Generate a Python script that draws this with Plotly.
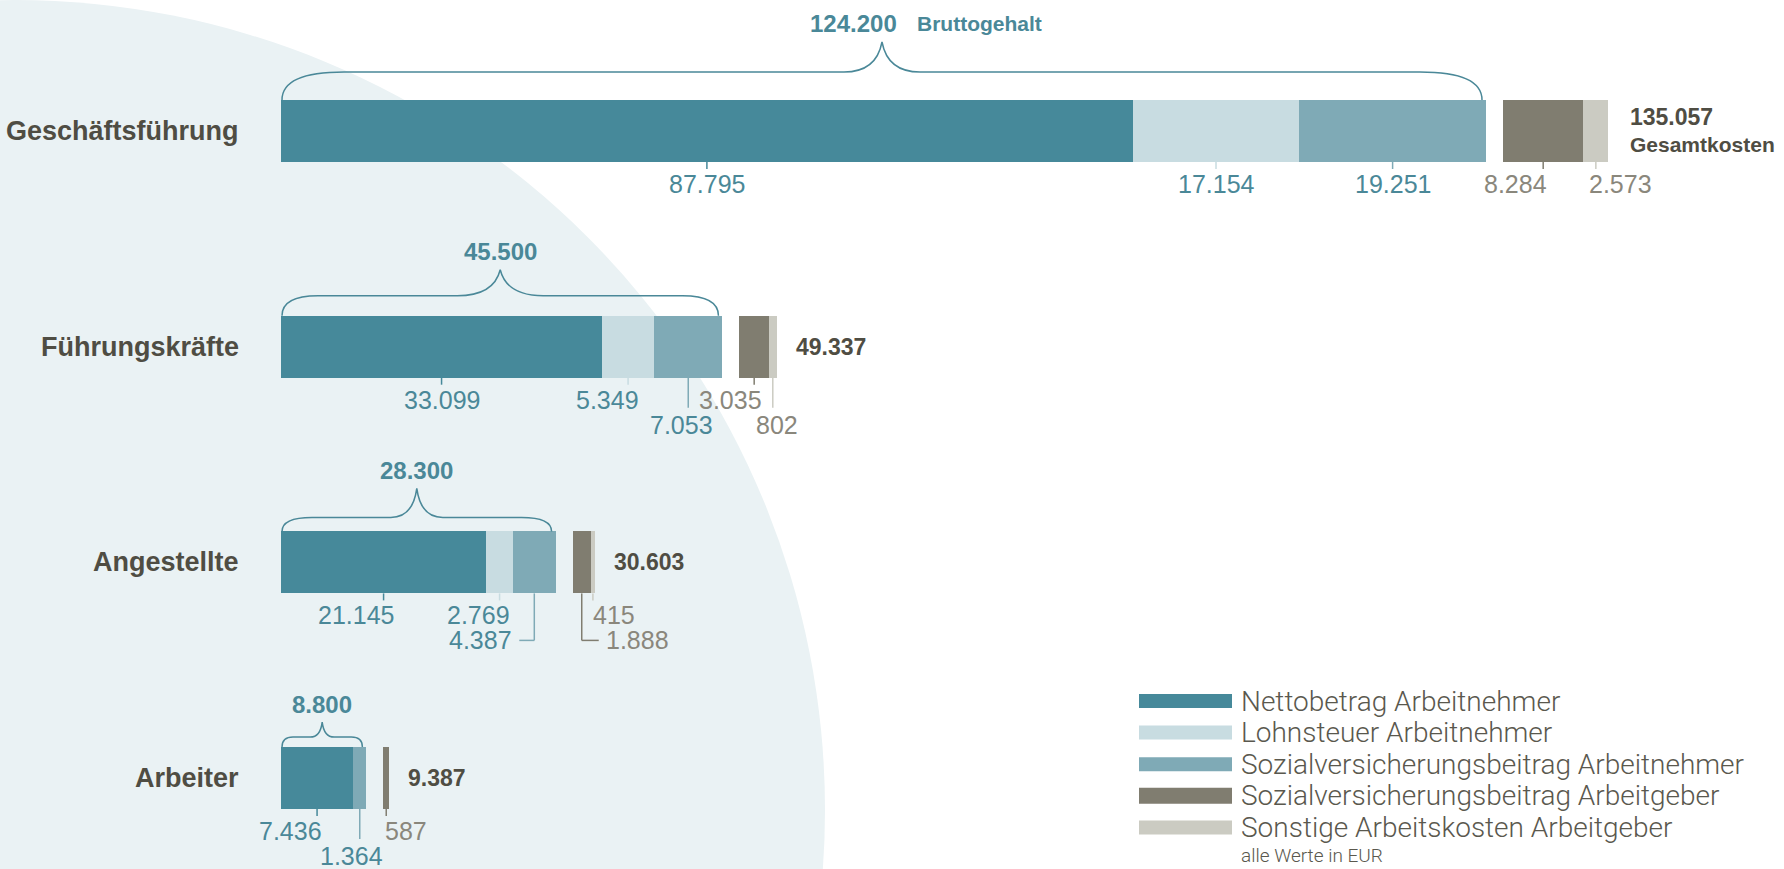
import plotly.graph_objects as go

# Arbeitskosten je Beschäftigtengruppe, alle Werte in EUR
ROWS = ["Geschäftsführung", "Führungskräfte", "Angestellte", "Arbeiter"]
SERIES = [
    "Nettobetrag Arbeitnehmer",
    "Lohnsteuer Arbeitnehmer",
    "Sozialversicherungsbeitrag Arbeitnehmer",
    "Sozialversicherungsbeitrag Arbeitgeber",
    "Sonstige Arbeitskosten Arbeitgeber",
]
NETTO = [87795, 33099, 21145, 7436]
LOHNSTEUER = [17154, 5349, 2769, 0]
SV_AN = [19251, 7053, 4387, 1364]
SV_AG = [8284, 3035, 1888, 587]
SONSTIGE = [2573, 802, 415, 0]
BRUTTO = [124200, 45500, 28300, 8800]
GESAMT = [135057, 49337, 30603, 9387]
BRUTTO_TEXT = "Bruttogehalt"
GESAMT_TEXT = "Gesamtkosten"
NOTE = "alle Werte in EUR"

VALUES = [NETTO, LOHNSTEUER, SV_AN, SV_AG, SONSTIGE]
EMPLOYEE = [0, 1, 2]
EMPLOYER = [3, 4]

COLORS = ["#46899a", "#c8dce1", "#7faab6", "#807d70", "#cbcbc2"]
TEAL = "#4a8898"
GREY = "#8a877c"
DARK = "#4f4d43"
LEGEND_TXT = "#5a584e"
BG_CIRCLE = "#eaf2f4"

BOLD_FONT = "Liberation Sans, Arial, sans-serif"
NUM_FONT = "Liberation Sans, Arial, sans-serif"
LIGHT_FONT = "Roboto, Liberation Sans, sans-serif"

# pixel geometry (margins are zero, so paper == page)
W, H = 1784, 869
X0_PX, PX_PER_EUR = 281, 1205 / 124200
ROW0_PX, ROW_STEP_PX = 131, 215.7
BAR_PX, GAP_PX = 62, 17


def dx(px):
    return px / PX_PER_EUR


def dy(px):
    return px / ROW_STEP_PX


def fmt(v):
    return f"{v:,}".replace(",", ".")


BAR_W = dy(BAR_PX)
GAP = dx(GAP_PX)

# label placement: (anchor, xshift px, text line, leader type)
LABEL_LAYOUT = {
    (0, 3): ("right", 6, 1, "tick"),
    (0, 4): ("left", -9, 1, "tick"),
    (1, 1): ("right", 13, 1, "tick"),
    (1, 2): ("center", -7, 2, "long"),
    (1, 3): ("right", 10, 1, "tick"),
    (1, 4): ("center", 4, 2, "long"),
    (2, 0): ("right", 12, 1, "tick"),
    (2, 1): ("right", 12, 1, "tick"),
    (2, 2): ("right", -20, 2, "elbow_l"),
    (2, 3): ("left", 22, 2, "elbow_r"),
    (2, 4): ("left", -2, 1, "tick"),
    (3, 0): ("right", 7, 1, "tick"),
    (3, 2): ("center", -8, 2, "long"),
    (3, 3): ("left", -3, 1, "tick"),
}
LINE_OFFSET = {1: 22, 2: 47}

# brace shape per row: (rise at ends, peak height, end radius, peak half width) in px
BRACE = [(28, 30, 62, 38), (20, 26, 36, 43), (14, 29, 30, 26), (10, 15, 11, 12)]

rows_idx = list(range(len(ROWS)))

# bases for each segment
bases = [[0] * len(ROWS) for _ in SERIES]
for r in rows_idx:
    acc = 0
    for s in EMPLOYEE:
        bases[s][r] = acc
        acc += VALUES[s][r]
    acc += GAP
    for s in EMPLOYER:
        bases[s][r] = acc
        acc += VALUES[s][r]

fig = go.Figure()
for s, name in enumerate(SERIES):
    fig.add_trace(go.Bar(
        y=rows_idx,
        x=VALUES[s],
        base=bases[s],
        orientation="h",
        width=BAR_W,
        marker=dict(color=COLORS[s], line=dict(width=0)),
        name=name,
        showlegend=False,
        hovertemplate="%{x}<extra>" + name + "</extra>",
    ))

shapes = []
annotations = []

# background circle
shapes.append(dict(
    type="circle", xref="paper", yref="paper", layer="below",
    x0=(15 - 810) / W, x1=(15 + 810) / W,
    y0=1 - (810 + 810) / H, y1=1 - 0 / H,
    fillcolor=BG_CIRCLE, line=dict(width=0),
))


def vline(x, y0, y1, color):
    shapes.append(dict(type="line", xref="x", yref="y", x0=x, x1=x, y0=y0, y1=y1,
                       line=dict(color=color, width=1.5)))


def hline(x0, x1, y, color):
    shapes.append(dict(type="line", xref="x", yref="y", x0=x0, x1=x1, y0=y, y1=y,
                       line=dict(color=color, width=1.5)))


for r in rows_idx:
    top = r - BAR_W / 2
    bottom = r + BAR_W / 2

    # category label
    annotations.append(dict(
        x=0, y=r, xref="x", yref="y", text=ROWS[r], showarrow=False,
        xanchor="right", yanchor="middle", xshift=-40,
        font=dict(family=BOLD_FONT, size=27, color=DARK, weight="bold"),
    ))

    # segment value labels with leaders
    for s in range(len(SERIES)):
        v = VALUES[s][r]
        if v <= 0:
            continue
        mid = bases[s][r] + v / 2
        anchor, shift, line, leader = LABEL_LAYOUT.get((r, s), ("center", 0, 1, "tick"))
        ly = bottom + dy(LINE_OFFSET[line])
        color = COLORS[s]
        if leader == "tick":
            vline(mid, bottom, bottom + dy(7), color)
        elif leader == "long":
            vline(mid, bottom, bottom + dy(30), color)
        elif leader == "elbow_l":
            vline(mid, bottom, ly, color)
            hline(mid, mid - dx(15), ly, color)
        elif leader == "elbow_r":
            vline(mid, bottom, ly, color)
            hline(mid, mid + dx(17), ly, color)
        annotations.append(dict(
            x=mid, y=ly, xref="x", yref="y", text=fmt(v), showarrow=False,
            xanchor=anchor, yanchor="middle", xshift=shift,
            font=dict(family=NUM_FONT, size=25,
                      color=TEAL if s in EMPLOYEE else GREY),
        ))

    # brace over gross salary
    hh, hp, rad, pw = BRACE[r]
    emp_end = sum(VALUES[s][r] for s in EMPLOYEE)
    xa = dx(1)
    xb = emp_end - dx(4)
    xm = (xa + xb) / 2
    yh = top - dy(hh)
    yp = yh - dy(hp)
    path = (
        f"M {xa},{top} Q {xa},{yh} {xa + dx(rad)},{yh} "
        f"L {xm - dx(pw)},{yh} Q {xm - dx(pw * 0.15)},{yh} {xm},{yp} "
        f"Q {xm + dx(pw * 0.15)},{yh} {xm + dx(pw)},{yh} "
        f"L {xb - dx(rad)},{yh} Q {xb},{yh} {xb},{top}"
    )
    shapes.append(dict(type="path", xref="x", yref="y", path=path,
                       line=dict(color=TEAL, width=1.5)))

    if r == 0:
        annotations.append(dict(
            x=xm, y=yp - dy(19), xref="x", yref="y", text=fmt(BRUTTO[r]),
            showarrow=False, xanchor="right", yanchor="middle", xshift=17,
            font=dict(family=NUM_FONT, size=24, color=TEAL, weight="bold"),
        ))
        annotations.append(dict(
            x=xm, y=yp - dy(19), xref="x", yref="y", text=BRUTTO_TEXT,
            showarrow=False, xanchor="left", yanchor="middle", xshift=33,
            font=dict(family=BOLD_FONT, size=21, color=TEAL, weight="bold"),
        ))
    else:
        annotations.append(dict(
            x=xm, y=yp - dy(18), xref="x", yref="y", text=fmt(BRUTTO[r]),
            showarrow=False, xanchor="center", yanchor="middle",
            font=dict(family=NUM_FONT, size=24, color=TEAL, weight="bold"),
        ))

    # total labour cost
    tot_end = bases[4][r] + VALUES[4][r]
    if r == 0:
        annotations.append(dict(
            x=tot_end, y=r - dy(14), xref="x", yref="y", text=fmt(GESAMT[r]),
            showarrow=False, xanchor="left", yanchor="middle", xshift=20,
            font=dict(family=NUM_FONT, size=23, color=DARK, weight="bold"),
        ))
        annotations.append(dict(
            x=tot_end, y=r + dy(13), xref="x", yref="y", text=GESAMT_TEXT,
            showarrow=False, xanchor="left", yanchor="middle", xshift=20,
            font=dict(family=BOLD_FONT, size=21, color=DARK, weight="bold"),
        ))
    else:
        annotations.append(dict(
            x=tot_end, y=r, xref="x", yref="y", text=fmt(GESAMT[r]),
            showarrow=False, xanchor="left", yanchor="middle", xshift=17,
            font=dict(family=NUM_FONT, size=23, color=DARK, weight="bold"),
        ))

# manual legend with wide swatches
LEG_X0, LEG_X1, LEG_TX = 1139, 1232, 1239
LEG_Y0, LEG_STEP = 701, 31.6
for s, name in enumerate(SERIES):
    cy = LEG_Y0 + s * LEG_STEP
    half = 8 if s == 3 else 7
    shapes.append(dict(
        type="rect", xref="paper", yref="paper",
        x0=LEG_X0 / W, x1=LEG_X1 / W,
        y0=1 - (cy + half) / H, y1=1 - (cy - half) / H,
        fillcolor=COLORS[s], line=dict(width=0),
    ))
    annotations.append(dict(
        x=LEG_TX / W, y=1 - cy / H, xref="paper", yref="paper", text=name,
        showarrow=False, xanchor="left", yanchor="middle",
        font=dict(family=LIGHT_FONT, size=28, color=LEGEND_TXT, weight=300),
    ))
annotations.append(dict(
    x=LEG_TX / W, y=1 - (LEG_Y0 + 5 * LEG_STEP - 4) / H, xref="paper", yref="paper",
    text=NOTE, showarrow=False, xanchor="left", yanchor="middle",
    font=dict(family=LIGHT_FONT, size=19, color=LEGEND_TXT, weight=300),
))

fig.update_layout(
    width=W, height=H,
    margin=dict(l=0, r=0, t=0, b=0),
    paper_bgcolor="white",
    plot_bgcolor="rgba(0,0,0,0)",
    barmode="overlay",
    bargap=0,
    xaxis=dict(range=[-X0_PX / PX_PER_EUR, (W - X0_PX) / PX_PER_EUR],
               visible=False, fixedrange=True),
    yaxis=dict(range=[(H - ROW0_PX) / ROW_STEP_PX, -ROW0_PX / ROW_STEP_PX],
               visible=False, fixedrange=True),
    shapes=shapes,
    annotations=annotations,
    showlegend=False,
)

# page without the default body margin so the figure fills the window
fig.write_html(
    "out.html",
    config={"displayModeBar": False},
    post_script="document.body.style.margin='0';document.body.style.overflow='hidden';",
)
